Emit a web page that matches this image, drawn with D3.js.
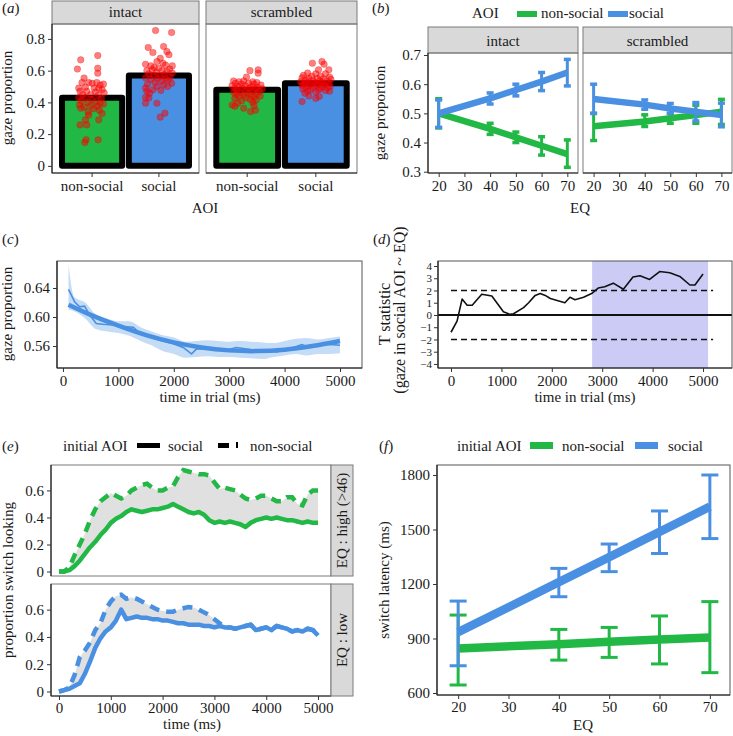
<!DOCTYPE html>
<html><head><meta charset="utf-8">
<script src="https://cdn.jsdelivr.net/npm/d3@7"></script>
<style>
body{margin:0;background:#fff}
svg, text{font-family:"Liberation Serif","Tinos","Times New Roman",Times,serif;fill:#1a1a1a}
</style>
</head><body>
<svg id="c" width="733" height="736"></svg>
<script>
// ---------------- DATA ----------------
const aoiCats = ["non-social", "social"];
const conditions = ["intact", "scrambled"];
const barIntact = [0.43, 0.57];
const barScrambled = [0.48, 0.52];
// jittered participant points: [offset in band units, value]
const ptsIntactNS = [[-0.17,0.668],[0.085,0.695],[0.085,0.615],[0.085,0.584],[-0.22,0.61],[-0.12,0.553],[-0.15,0.525],[-0.05,0.525],[0.0,0.52],[0.07,0.525],[0.12,0.51],[0.17,0.515],[-0.2,0.49],[-0.1,0.495],[0.03,0.49],[0.1,0.488],[0.15,0.48],[-0.18,0.47],[-0.08,0.47],[0.05,0.465],[0.18,0.46],[-0.14,0.45],[-0.02,0.45],[0.09,0.445],[-0.2,0.43],[-0.1,0.43],[0.0,0.42],[0.14,0.425],[-0.16,0.41],[0.06,0.405],[-0.06,0.4],[0.12,0.395],[-0.19,0.385],[-0.02,0.38],[0.08,0.375],[0.17,0.39],[-0.12,0.37],[0.02,0.36],[-0.17,0.363],[0.11,0.35],[-0.06,0.34],[0.15,0.33],[-0.05,0.32],[-0.1,0.29],[0.1,0.29],[-0.08,0.258],[-0.18,0.258],[-0.09,0.165],[0.09,0.164],[-0.11,0.147]];
const ptsIntactS = [[-0.05,0.853],[0.19,0.84],[-0.16,0.746],[0.07,0.752],[-0.09,0.714],[0.12,0.72],[0.15,0.70],[0.02,0.678],[-0.03,0.657],[0.06,0.647],[-0.2,0.64],[-0.12,0.63],[0.1,0.635],[0.2,0.63],[-0.07,0.62],[0.0,0.615],[0.16,0.61],[-0.18,0.6],[-0.1,0.605],[0.05,0.6],[0.12,0.595],[-0.04,0.59],[0.2,0.585],[-0.15,0.58],[0.08,0.575],[-0.08,0.57],[0.02,0.565],[0.17,0.56],[-0.2,0.555],[-0.02,0.55],[0.1,0.55],[0.14,0.54],[-0.12,0.545],[0.04,0.535],[-0.06,0.525],[0.19,0.52],[-0.17,0.515],[0.07,0.51],[-0.03,0.5],[0.13,0.5],[-0.2,0.49],[-0.09,0.48],[0.03,0.475],[-0.18,0.47],[-0.14,0.458],[-0.2,0.43],[-0.15,0.427],[-0.2,0.395],[-0.03,0.395],[0.09,0.332],[0.02,0.307]];
const ptsScrNS = [[0.04,0.60],[0.16,0.605],[0.16,0.584],[-0.01,0.559],[-0.2,0.535],[-0.12,0.53],[-0.05,0.535],[0.08,0.53],[0.14,0.525],[-0.17,0.52],[-0.08,0.515],[0.02,0.52],[0.1,0.515],[0.2,0.51],[-0.22,0.505],[-0.13,0.5],[-0.03,0.505],[0.06,0.5],[0.15,0.495],[-0.18,0.49],[-0.07,0.49],[0.03,0.488],[0.12,0.485],[0.22,0.485],[-0.15,0.478],[-0.02,0.475],[0.08,0.47],[0.18,0.47],[-0.2,0.465],[-0.1,0.462],[0.01,0.46],[0.14,0.455],[-0.16,0.45],[-0.05,0.448],[0.06,0.445],[0.19,0.44],[-0.12,0.438],[0.1,0.435],[-0.02,0.43],[-0.18,0.425],[0.04,0.42],[0.13,0.415],[-0.08,0.41],[0.08,0.4],[-0.14,0.395],[-0.22,0.384],[-0.18,0.375],[-0.05,0.363],[0.05,0.342],[0.12,0.35],[0.1,0.38]];
const ptsScrS = [[-0.05,0.647],[0.09,0.657],[0.12,0.64],[0.04,0.605],[0.19,0.605],[-0.12,0.585],[0.0,0.58],[0.14,0.58],[-0.18,0.57],[-0.06,0.565],[0.07,0.565],[0.2,0.56],[-0.2,0.555],[-0.1,0.55],[0.02,0.55],[0.11,0.548],[0.22,0.545],[-0.15,0.54],[-0.04,0.538],[0.06,0.535],[0.16,0.535],[-0.22,0.53],[-0.12,0.528],[-0.01,0.525],[0.09,0.525],[0.19,0.52],[-0.17,0.518],[-0.07,0.515],[0.03,0.515],[0.13,0.51],[-0.2,0.508],[-0.1,0.505],[0.01,0.505],[0.1,0.5],[0.21,0.5],[-0.15,0.495],[-0.04,0.495],[0.07,0.49],[0.17,0.49],[-0.19,0.485],[-0.08,0.48],[0.04,0.48],[0.14,0.475],[-0.12,0.47],[0.0,0.465],[0.2,0.47],[-0.16,0.458],[-0.1,0.44],[0.05,0.437],[0.0,0.425],[-0.2,0.405]];
const aTicks = [0, 0.2, 0.4, 0.6, 0.8];

// panel b
const eqLevels = [20, 40, 50, 60, 70];
const bIntactNS = [0.50, 0.447, 0.418, 0.389, 0.36];
const bIntactNSLo = [0.45, 0.428, 0.40, 0.357, 0.315];
const bIntactNSHi = [0.55, 0.466, 0.436, 0.42, 0.409];
const bIntactS = [0.50, 0.551, 0.58, 0.609, 0.64];
const bIntactSLo = [0.452, 0.532, 0.56, 0.578, 0.594];
const bIntactSHi = [0.546, 0.57, 0.60, 0.64, 0.685];
const bScrNS = [0.456, 0.472, 0.483, 0.494, 0.506];
const bScrNSLo = [0.407, 0.455, 0.466, 0.466, 0.462];
const bScrNSHi = [0.50, 0.495, 0.50, 0.528, 0.548];
const bScrS = [0.549, 0.53, 0.517, 0.506, 0.494];
const bScrSLo = [0.50, 0.514, 0.50, 0.474, 0.454];
const bScrSHi = [0.60, 0.546, 0.534, 0.537, 0.535];
const bTicksY = [0.3, 0.4, 0.5, 0.6, 0.7];
const eqTicks = [20, 30, 40, 50, 60, 70];

// panel c
const cTime = [100,210,300,390,480,600,720,900,1080,1270,1390,1570,1750,1990,2170,2320,2410,2590,2950,3130,3490,3855,4160,4310,4460,4700,5000];
const cRaw  = [0.638,0.621,0.614,0.615,0.603,0.591,0.59,0.589,0.587,0.586,0.577,0.572,0.568,0.563,0.558,0.549,0.556,0.556,0.554,0.558,0.554,0.552,0.558,0.562,0.558,0.563,0.561];
const cBandTime = [100,200,400,600,800,1000,1200,1400,1600,1800,2000,2200,2400,2600,2800,3000,3200,3400,3600,3800,4000,4200,4400,4600,4800,5000];
const cBandHi = [0.672,0.628,0.62,0.603,0.598,0.594,0.594,0.586,0.58,0.575,0.572,0.566,0.567,0.568,0.567,0.566,0.567,0.566,0.565,0.564,0.567,0.57,0.571,0.569,0.571,0.573];
const cBandLo = [0.61,0.608,0.598,0.583,0.58,0.578,0.574,0.567,0.561,0.553,0.549,0.544,0.545,0.546,0.545,0.545,0.544,0.543,0.542,0.545,0.547,0.549,0.547,0.549,0.549,0.55];
const cFitTime = [100,500,1000,1500,2000,2500,3000,3500,4000,4500,5000];
const cFit = [0.617,0.603,0.588,0.575,0.565,0.558,0.554,0.553,0.555,0.56,0.567];
const cTicksY = [0.56, 0.60, 0.64];
const timeTicks = [0, 1000, 2000, 3000, 4000, 5000];

// panel d
const dTime = [0,120,220,320,420,610,810,1040,1170,1240,1440,1540,1670,1770,1870,1970,2260,2360,2460,2630,2790,2920,3050,3220,3420,3610,3750,3940,4140,4340,4540,4740,4840,5000];
const dT    = [-1.41,-0.5,1.3,0.8,0.8,1.7,1.55,0.27,0.05,0.1,0.6,1.0,1.6,1.75,1.6,1.35,1.0,1.45,1.25,1.45,1.75,2.2,2.3,2.6,2.1,3.1,3.2,2.9,3.55,3.45,3.15,2.45,2.45,3.35];
const dSigStart = 2800, dSigEnd = 5100;
const dThresh = [2, -2];
const dTicksY = [-4,-3,-2,-1,0,1,2,3,4];

// panel e
const eTime = d3.range(0, 5001, 100);
const eHighSocial = [0,0,0.01,0.04,0.08,0.13,0.18,0.22,0.27,0.31,0.36,0.39,0.41,0.44,0.46,0.45,0.44,0.45,0.46,0.46,0.47,0.48,0.50,0.48,0.46,0.44,0.43,0.44,0.42,0.38,0.36,0.37,0.36,0.37,0.36,0.35,0.33,0.36,0.38,0.39,0.40,0.39,0.40,0.39,0.38,0.38,0.37,0.36,0.37,0.36,0.36];
const eHighNonSocial = [0,0,0.03,0.12,0.2,0.28,0.38,0.46,0.52,0.55,0.58,0.56,0.54,0.56,0.6,0.62,0.64,0.65,0.62,0.6,0.6,0.62,0.63,0.7,0.75,0.74,0.73,0.72,0.72,0.71,0.66,0.61,0.62,0.61,0.6,0.57,0.54,0.53,0.54,0.56,0.56,0.54,0.52,0.52,0.55,0.55,0.5,0.49,0.57,0.6,0.6];
const eLowSocial = [0,0.01,0.02,0.04,0.06,0.13,0.22,0.32,0.39,0.44,0.47,0.52,0.60,0.53,0.54,0.55,0.54,0.54,0.53,0.53,0.52,0.52,0.51,0.5,0.5,0.49,0.49,0.49,0.48,0.48,0.47,0.48,0.47,0.47,0.46,0.47,0.48,0.49,0.45,0.46,0.47,0.45,0.48,0.47,0.46,0.44,0.45,0.44,0.46,0.45,0.41];
const eLowNonSocial = [0,0.01,0.03,0.12,0.25,0.3,0.36,0.45,0.50,0.6,0.66,0.70,0.71,0.68,0.69,0.68,0.66,0.64,0.62,0.6,0.59,0.585,0.585,0.6,0.61,0.62,0.615,0.6,0.58,0.56,0.53,0.5,0.47,0.47,0.46,0.47,0.48,0.49,0.45,0.46,0.47,0.45,0.48,0.47,0.46,0.44,0.45,0.44,0.46,0.45,0.41];
const eTicksY = [0, 0.2, 0.4, 0.6];
const eStrips = ["EQ : high (>46)", "EQ : low"];

// panel f
const fNonSocial = [845, 869, 882, 894, 906];
const fNonSocialLo = [644, 781, 796, 760, 712];
const fNonSocialHi = [1029, 950, 961, 1024, 1103];
const fSocial = [935, 1210, 1348, 1487, 1626];
const fSocialLo = [750, 1130, 1268, 1368, 1450];
const fSocialHi = [1106, 1286, 1420, 1602, 1800];
const fTicksY = [600, 900, 1200, 1500, 1800];

// ---------------- DRAWING ----------------
const svg = d3.select("#c");
const GREEN = "#22b845", BLUE = "#4a90e2";
const FONT = '"Liberation Serif","Tinos","Times New Roman",Times,serif';
const STRIP = "#d9d9d9", BORDER = "#7a7a7a";
const FS = 15;

function txt(x, y, s, o = {}) {
  const t = svg.append("text").attr("x", x).attr("y", y).text(s)
    .style("font-family", FONT)
    .style("font-size", (o.size || FS) + "px").attr("text-anchor", o.anchor || "start");
  if (o.rotate) t.attr("transform", `rotate(${o.rotate},${x},${y})`);
  return t;
}
function panelLabel(x, y, l) {
  const t = svg.append("text").attr("x", x).attr("y", y).style("font-size", "15px").style("font-family", FONT);
  t.append("tspan").text("(");
  t.append("tspan").style("font-style", "italic").text(l);
  t.append("tspan").text(")");
}
function styleAxis(g, size) {
  g.select(".domain").remove();
  g.attr("font-family", null).attr("font-size", null);
  g.selectAll("text").style("font-size", size + "px").style("font-family", FONT).attr("fill", "#1a1a1a");
  g.selectAll("line").attr("stroke", "#333");
}
function yAxis(scale, x, vals, fmt, size = FS, pad = 3) {
  const g = svg.append("g").attr("transform", `translate(${x},0)`)
    .call(d3.axisLeft(scale).tickValues(vals).tickFormat(fmt).tickSize(4).tickPadding(pad));
  styleAxis(g, size);
  return g;
}
function xAxis(scale, y, vals, fmt, size = FS, pad = 3) {
  const g = svg.append("g").attr("transform", `translate(0,${y})`)
    .call(d3.axisBottom(scale).tickValues(vals).tickFormat(fmt).tickSize(4).tickPadding(pad));
  styleAxis(g, size);
  return g;
}
function box(x0, y0, x1, y1, color = BORDER, left = true, bottom = true) {
  svg.append("rect").attr("x", x0).attr("y", y0).attr("width", x1 - x0).attr("height", y1 - y0)
    .attr("fill", "none").attr("stroke", color).attr("stroke-width", 1);
  if (left) svg.append("line").attr("x1", x0).attr("x2", x0).attr("y1", y0).attr("y2", y1).attr("stroke", "#222").attr("stroke-width", 1.2);
  if (bottom) svg.append("line").attr("x1", x0).attr("x2", x1).attr("y1", y1).attr("y2", y1).attr("stroke", "#222").attr("stroke-width", 1.2);
}
function strip(x0, y0, x1, y1, label, vertical = false) {
  svg.append("rect").attr("x", x0).attr("y", y0).attr("width", x1 - x0).attr("height", y1 - y0)
    .attr("fill", STRIP).attr("stroke", BORDER).attr("stroke-width", 1);
  if (vertical) {
    const cx = (x0 + x1) / 2 + 5, cy = (y0 + y1) / 2;
    txt(cx, cy, label, { anchor: "middle", rotate: -90 });
  } else {
    txt((x0 + x1) / 2, y1 - 7, label, { anchor: "middle" });
  }
}
const fmtTrim = d => d === 0 ? "0" : String(d);

// ===== Panel (a) =====
panelLabel(2, 13, "a");
{
  const yA = d3.scaleLinear().domain([-0.045, 0.894]).range([173, 24]);
  const facets = [
    { name: conditions[0], x0: 52, x1: 199, means: barIntact, pts: [ptsIntactNS, ptsIntactS] },
    { name: conditions[1], x0: 206, x1: 357, means: barScrambled, pts: [ptsScrNS, ptsScrS] }
  ];
  facets.forEach((f, fi) => {
    const xb = d3.scaleBand().domain(aoiCats).range([f.x0, f.x1]).paddingInner(0.1).paddingOuter(0.15);
    strip(f.x0, 1, f.x1, 24, f.name);
    svg.append("g").selectAll("rect").data(aoiCats).join("rect")
      .attr("x", d => xb(d)).attr("width", xb.bandwidth())
      .attr("y", (d, i) => yA(f.means[i])).attr("height", (d, i) => yA(0) - yA(f.means[i]))
      .attr("fill", (d, i) => i === 0 ? GREEN : BLUE)
      .attr("stroke", "#000").attr("stroke-width", 6).attr("stroke-linejoin", "round");
    aoiCats.forEach((cat, ci) => {
      svg.append("g").selectAll("circle").data(f.pts[ci]).join("circle")
        .attr("cx", d => xb(cat) + xb.bandwidth() / 2 + d[0] * xb.step())
        .attr("cy", d => yA(d[1])).attr("r", 3.3)
        .attr("fill", "#ff0000").attr("fill-opacity", 0.5)
        .attr("stroke", "#e00000").attr("stroke-opacity", 0.4).attr("stroke-width", 0.6);
    });
    box(f.x0, 24, f.x1, 173, BORDER, fi === 0, true);
    xAxis(xb, 173, aoiCats, d => d);
  });
  yAxis(yA, 52, aTicks, fmtTrim);
  txt(12, 98, "gaze proportion", { anchor: "middle", rotate: -90 });
  txt(205, 213, "AOI", { anchor: "middle" });
}

// ===== Panel (b) =====
panelLabel(372, 13, "b");
{
  txt(472, 18, "AOI");
  svg.append("rect").attr("x", 517).attr("y", 11).attr("width", 20).attr("height", 6).attr("fill", GREEN);
  txt(541, 18, aoiCats[0]);
  svg.append("rect").attr("x", 608).attr("y", 11).attr("width", 20).attr("height", 6).attr("fill", BLUE);
  txt(629, 18, aoiCats[1]);
  const yB = d3.scaleLinear().domain([0.2956, 0.7069]).range([173, 53]);
  const facets = [
    { name: conditions[0], x0: 428, x1: 578, series: [[bIntactNS, bIntactNSLo, bIntactNSHi, GREEN], [bIntactS, bIntactSLo, bIntactSHi, BLUE]] },
    { name: conditions[1], x0: 583, x1: 732, series: [[bScrNS, bScrNSLo, bScrNSHi, GREEN], [bScrS, bScrSLo, bScrSHi, BLUE]] }
  ];
  facets.forEach((f, fi) => {
    const xB = d3.scaleLinear().domain([15.85, 74.15]).range([f.x0, f.x1]);
    strip(f.x0, 27, f.x1, 53, f.name);
    f.series.forEach(([m, lo, hi, col]) => {
      const pts = eqLevels.map((e, i) => [e, m[i], lo[i], hi[i]]);
      svg.append("path").datum(pts)
        .attr("d", d3.line().x(d => xB(d[0])).y(d => yB(d[1])))
        .attr("fill", "none").attr("stroke", col).attr("stroke-width", 6.5);
      const g = svg.append("g").attr("stroke", col).attr("stroke-width", 3);
      g.selectAll(".v").data(pts).join("line").attr("x1", d => xB(d[0])).attr("x2", d => xB(d[0]))
        .attr("y1", d => yB(d[2])).attr("y2", d => yB(d[3]));
      g.selectAll(".t").data(pts).join("line").attr("x1", d => xB(d[0]) - 3.5).attr("x2", d => xB(d[0]) + 3.5)
        .attr("y1", d => yB(d[3])).attr("y2", d => yB(d[3])).attr("stroke-width", 3.5);
      g.selectAll(".b").data(pts).join("line").attr("x1", d => xB(d[0]) - 3.5).attr("x2", d => xB(d[0]) + 3.5)
        .attr("y1", d => yB(d[2])).attr("y2", d => yB(d[2])).attr("stroke-width", 3.5);
    });
    box(f.x0, 53, f.x1, 173, BORDER, fi === 0, true);
    xAxis(xB, 173, eqTicks, d => d);
  });
  yAxis(yB, 428, bTicksY, d => d3.format(".1f")(d));
  txt(385, 113, "gaze proportion", { anchor: "middle", rotate: -90 });
  txt(580, 213, "EQ", { anchor: "middle" });
}

// ===== Panel (c) =====
panelLabel(2, 244, "c");
{
  const xC = d3.scaleLinear().domain([-108, 5397]).range([57, 362]);
  const yC = d3.scaleLinear().domain([0.5297, 0.6772]).range([368, 261]);
  const band = cBandTime.map((t, i) => [t, cBandLo[i], cBandHi[i]]);
  svg.append("path").datum(band)
    .attr("d", d3.area().x(d => xC(d[0])).y0(d => yC(d[1])).y1(d => yC(d[2])).curve(d3.curveMonotoneX))
    .attr("fill", "#c4dcf6");
  svg.append("path").datum(cTime.map((t, i) => [t, cRaw[i]]))
    .attr("d", d3.line().x(d => xC(d[0])).y(d => yC(d[1])))
    .attr("fill", "none").attr("stroke", BLUE).attr("stroke-width", 1.6);
  svg.append("path").datum(cFitTime.map((t, i) => [t, cFit[i]]))
    .attr("d", d3.line().x(d => xC(d[0])).y(d => yC(d[1])).curve(d3.curveCatmullRom))
    .attr("fill", "none").attr("stroke", BLUE).attr("stroke-width", 4.5);
  box(57, 261, 362, 368, "#555");
  yAxis(yC, 57, cTicksY, d => d3.format(".2f")(d));
  xAxis(xC, 368, timeTicks, d => d);
  txt(12, 314, "gaze proportion", { anchor: "middle", rotate: -90 });
  txt(210, 402, "time in trial (ms)", { anchor: "middle" });
}

// ===== Panel (d) =====
panelLabel(373, 244, "d");
{
  const xD = d3.scaleLinear().domain([-258, 5575]).range([438, 732]);
  const yD = d3.scaleLinear().domain([-4.33, 4.41]).range([368, 261]);
  svg.append("rect").attr("x", xD(dSigStart)).attr("width", xD(dSigEnd) - xD(dSigStart))
    .attr("y", 261).attr("height", 107).attr("fill", "#cbcbf6");
  dThresh.forEach(v => {
    svg.append("line").attr("x1", xD(0)).attr("x2", xD(5200)).attr("y1", yD(v)).attr("y2", yD(v))
      .attr("stroke", "#111").attr("stroke-width", 1.5).attr("stroke-dasharray", "6,4");
  });
  svg.append("line").attr("x1", 438).attr("x2", 732).attr("y1", yD(0)).attr("y2", yD(0))
    .attr("stroke", "#111").attr("stroke-width", 1.8);
  svg.append("path").datum(dTime.map((t, i) => [t, dT[i]]))
    .attr("d", d3.line().x(d => xD(d[0])).y(d => yD(d[1])))
    .attr("fill", "none").attr("stroke", "#111").attr("stroke-width", 1.6).attr("stroke-linejoin", "round");
  box(438, 261, 732, 368, "#555");
  yAxis(yD, 438, dTicksY, d => d < 0 ? "\u2212" + Math.abs(d) : String(d), 11, 2);
  xAxis(xD, 368, timeTicks, d => d);
  txt(390, 314, "T statistic", { anchor: "middle", rotate: -90, size: 16 });
  txt(405, 310, "(gaze in social AOI ~ EQ)", { anchor: "middle", rotate: -90, size: 16 });
  txt(585, 402, "time in trial (ms)", { anchor: "middle" });
}

// ===== Panel (e) =====
panelLabel(2, 451, "e");
{
  txt(63, 451, "initial AOI");
  svg.append("rect").attr("x", 137).attr("y", 443).attr("width", 23).attr("height", 5).attr("fill", "#000");
  txt(168, 451, "social");
  svg.append("rect").attr("x", 218).attr("y", 443).attr("width", 11).attr("height", 5).attr("fill", "#000");
  svg.append("rect").attr("x", 236).attr("y", 442).attr("width", 2).attr("height", 6).attr("fill", "#000");
  txt(250, 451, "non-social");
  const xE = d3.scaleLinear().domain([-154, 5250]).range([51, 331]);
  const rows = [
    { y0: 465, y1: 576, solid: eHighSocial, dashed: eHighNonSocial, col: GREEN, label: eStrips[0] },
    { y0: 584, y1: 696, solid: eLowSocial, dashed: eLowNonSocial, col: BLUE, label: eStrips[1] }
  ];
  rows.forEach((r, ri) => {
    const yE = d3.scaleLinear().domain([-0.033, 0.788]).range([r.y1, r.y0]);
    const data = eTime.map((t, i) => [t, r.solid[i], r.dashed[i]]);
    svg.append("path").datum(data)
      .attr("d", d3.area().x(d => xE(d[0])).y0(d => yE(Math.min(d[1], d[2]))).y1(d => yE(Math.max(d[1], d[2]))))
      .attr("fill", "#e0e0e0");
    svg.append("path").datum(data)
      .attr("d", d3.line().x(d => xE(d[0])).y(d => yE(d[1])))
      .attr("fill", "none").attr("stroke", r.col).attr("stroke-width", 4.5).attr("stroke-linejoin", "round");
    svg.append("path").datum(data)
      .attr("d", d3.line().x(d => xE(d[0])).y(d => yE(d[2])))
      .attr("fill", "none").attr("stroke", r.col).attr("stroke-width", 4.5).attr("stroke-dasharray", "10,7");
    box(51, r.y0, 331, r.y1, BORDER, true, ri === 1);
    strip(331, r.y0, 353, r.y1, r.label, true);
    yAxis(yE, 51, eTicksY, fmtTrim);
  });
  xAxis(xE, 696, timeTicks, d => d, FS, 2);
  txt(13, 580, "proportion switch looking", { anchor: "middle", rotate: -90 });
  txt(192, 729, "time (ms)", { anchor: "middle" });
}

// ===== Panel (f) =====
panelLabel(379, 451, "f");
{
  txt(457, 451, "initial AOI");
  svg.append("rect").attr("x", 530).attr("y", 442).attr("width", 23).attr("height", 7).attr("fill", GREEN);
  txt(562, 451, aoiCats[0]);
  svg.append("rect").attr("x", 635).attr("y", 442).attr("width", 23).attr("height", 7).attr("fill", BLUE);
  txt(668, 451, aoiCats[1]);
  const xF = d3.scaleLinear().domain([15.8, 74]).range([437, 730]);
  const yF = d3.scaleLinear().domain([589, 1855]).range([695, 465]);
  [[fNonSocial, fNonSocialLo, fNonSocialHi, GREEN], [fSocial, fSocialLo, fSocialHi, BLUE]].forEach(([m, lo, hi, col]) => {
    const pts = eqLevels.map((e, i) => [e, m[i], lo[i], hi[i]]);
    svg.append("path").datum(pts)
      .attr("d", d3.line().x(d => xF(d[0])).y(d => yF(d[1])))
      .attr("fill", "none").attr("stroke", col).attr("stroke-width", 8.5);
    const g = svg.append("g").attr("stroke", col).attr("stroke-width", 3);
    g.selectAll(".v").data(pts).join("line").attr("x1", d => xF(d[0])).attr("x2", d => xF(d[0]))
      .attr("y1", d => yF(d[2])).attr("y2", d => yF(d[3]));
    g.selectAll(".t").data(pts).join("line").attr("x1", d => xF(d[0]) - 8.5).attr("x2", d => xF(d[0]) + 8.5)
      .attr("y1", d => yF(d[3])).attr("y2", d => yF(d[3]));
    g.selectAll(".b").data(pts).join("line").attr("x1", d => xF(d[0]) - 8.5).attr("x2", d => xF(d[0]) + 8.5)
      .attr("y1", d => yF(d[2])).attr("y2", d => yF(d[2]));
  });
  box(437, 465, 730, 695, "#555");
  yAxis(yF, 437, fTicksY, d => d);
  xAxis(xF, 695, eqTicks, d => d, FS, 2);
  txt(389, 580, "switch latency (ms)", { anchor: "middle", rotate: -90 });
  txt(583, 730, "EQ", { anchor: "middle" });
}
</script>
</body></html>
